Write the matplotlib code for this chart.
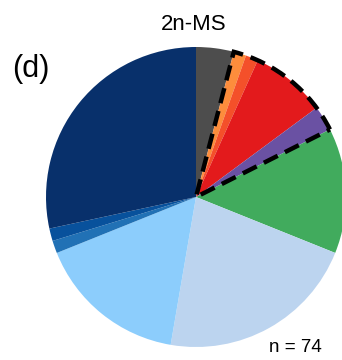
import numpy as np
import matplotlib.pyplot as plt
from matplotlib.patches import Wedge

plt.rcParams['font.family'] = ['Liberation Sans', 'DejaVu Sans']

# Counts per category, clockwise from 12 o'clock
labels = ['Grey', 'Light orange', 'Orange', 'Red', 'Purple', 'Green',
          'Pale blue', 'Sky blue', 'Blue', 'Mid blue', 'Navy']
counts = [3, 1, 1, 6, 2, 10, 16, 12, 1, 1, 21]
colors = ['#4d4d4d', '#fd8d3c', '#f4502a', '#e31a1c', '#6a51a3', '#41ab5d',
          '#bcd4ef', '#8ccdfc', '#2171b5', '#08519c', '#08306b']
highlighted = ['Light orange', 'Orange', 'Red', 'Purple']
title = '2n-MS'
panel = '(d)'

n_total = sum(counts)

fig = plt.figure(figsize=(3.42, 3.60), dpi=100)
ax = fig.add_axes([46 / 342, 13 / 360, 300 / 342, 300 / 360])
ax.pie(counts, colors=colors, startangle=90, counterclock=False,
       radius=1.0, wedgeprops=dict(linewidth=0))
ax.set_xlim(-1, 1)
ax.set_ylim(-1, 1)
ax.set_aspect('equal')
ax.axis('off')

# Dashed outline around the highlighted group of slices
idx = [labels.index(h) for h in highlighted]
cum = np.concatenate([[0], np.cumsum(counts)])
start = cum[min(idx)] / n_total * 360
end = cum[max(idx) + 1] / n_total * 360
outline = Wedge((0, 0), 1.0, 90 - end, 90 - start, fill=False,
                edgecolor='black', linewidth=3.2, linestyle=(0, (3.5, 1.8)),
                clip_on=False, zorder=5)
ax.add_patch(outline)

fig.text(194 / 342, 1 - 24 / 360, title, ha='center', va='center', fontsize=16)
fig.text(12 / 342, 1 - 69 / 360, panel, ha='left', va='center', fontsize=22)
fig.text(295 / 342, 1 - 348 / 360, f'n = {n_total}', ha='center', va='center',
         fontsize=13.5)

fig.savefig('out.png', dpi=100)
